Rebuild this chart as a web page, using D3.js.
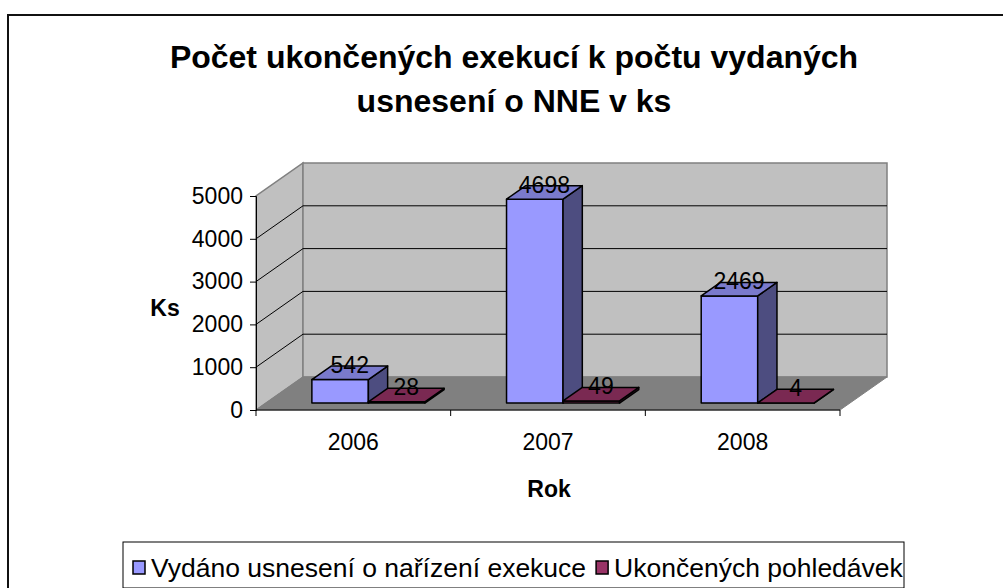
<!DOCTYPE html>
<html>
<head>
<meta charset="utf-8">
<script src="https://cdn.jsdelivr.net/npm/d3@7"></script>
<style>
  body { margin: 0; background: #fff; }
  text { font-family: "Liberation Sans", Arial, sans-serif; }
</style>
</head>
<body>
<svg></svg>
<script>
//Chart data.
var years = ["2006", "2007", "2008"];
var issued = [542, 4698, 2469];
var finished = [28, 49, 4];
var seriesNames = ["Vydáno usnesení o nařízení exekuce", "Ukončených pohledávek"];
var yTicks = [0, 1000, 2000, 3000, 4000, 5000];

var w = 1003, h = 588;
var svg = d3.select("svg").attr("width", w).attr("height", h);

//Depth of the 3D box (floor goes back this many px right and up).
var DX = 47, DY = 33;
//Bars sit between these depth fractions.
var f0 = 0.21, f1 = 0.62;

var x0 = d3.scaleBand().domain(years).range([256, 840]);
var x1 = d3.scaleBand().domain([0, 1]).range([0, 113]);
var y = d3.scaleLinear().domain([0, 5000]).range([410, 196]);
//Bars are drawn a touch taller than the axis scale, as in the picture.
var yBar = d3.scaleLinear().domain([0, 5000]).range([410, 193]);

//Project a front-plane point back to depth f.
function proj(x, yy, f) {
  return [x + f * DX, yy - f * DY];
}
function poly(pts) {
  return "M" + pts.map(p => p.join(",")).join("L") + "Z";
}

//Outer chart frame (runs off the right and bottom edges).
svg.append("rect")
  .attr("x", 8).attr("y", 15)
  .attr("width", 1200).attr("height", 800)
  .attr("fill", "none").attr("stroke", "#111").attr("stroke-width", 2);

//Title.
var title = svg.append("text")
  .attr("text-anchor", "middle")
  .attr("font-weight", "bold")
  .attr("font-size", 32);
title.append("tspan").attr("x", 514).attr("y", 68).text("Počet ukončených exekucí k počtu vydaných");
title.append("tspan").attr("x", 514).attr("y", 112).text("usnesení o NNE v ks");

var y0 = y(0), yMax = y(5000);
var xl = x0.range()[0], xr = x0.range()[1];

//Walls and floor.
var walls = svg.append("g");
walls.append("path")
  .attr("d", poly([proj(xl, y0, 0), proj(xl, yMax, 0), proj(xl, yMax, 1), proj(xl, y0, 1)]))
  .attr("fill", "#c0c0c0").attr("stroke", "#808080").attr("stroke-width", 1.5);
walls.append("path")
  .attr("d", poly([proj(xl, y0, 1), proj(xl, yMax, 1), proj(xr, yMax, 1), proj(xr, y0, 1)]))
  .attr("fill", "#c0c0c0").attr("stroke", "#808080").attr("stroke-width", 1.5);
walls.append("path")
  .attr("d", poly([proj(xl, y0, 0), proj(xr, y0, 0), proj(xr, y0, 1), proj(xl, y0, 1)]))
  .attr("fill", "#808080").attr("stroke", "#808080");

//Gridlines on the side wall and back wall.
var gridTicks = yTicks.filter(t => t > 0 && t < 5000);
walls.selectAll("path.grid")
  .data(gridTicks)
  .enter().append("path")
    .attr("class", "grid")
    .attr("d", t => "M" + proj(xl, y(t), 0).join(",") + "L" + proj(xl, y(t), 1).join(",") +
      "L" + proj(xr, y(t), 1).join(","))
    .attr("fill", "none").attr("stroke", "#000").attr("stroke-width", 1);

//Y axis.
var yAxis = svg.append("g")
  .attr("transform", "translate(" + xl + ",0)")
  .call(d3.axisLeft(y).tickValues(yTicks).tickSize(6).tickPadding(7).tickFormat(d3.format("d")));
yAxis.select(".domain").attr("stroke", "#000");
yAxis.selectAll("text")
  .attr("font-size", 23).attr("fill", "#000")
  .style("font-family", "Liberation Sans, Arial, sans-serif");

//X axis line with ticks at band edges.
var xAxis = svg.append("g")
  .attr("transform", "translate(0," + y0 + ")");
xAxis.append("line")
  .attr("x1", xl).attr("x2", xr).attr("y1", 0).attr("y2", 0)
  .attr("stroke", "#000");
xAxis.selectAll("line.tick")
  .data(years.map(d => x0(d)).concat([xr]))
  .enter().append("line")
    .attr("class", "tick")
    .attr("x1", d => d).attr("x2", d => d)
    .attr("y1", 0).attr("y2", 6)
    .attr("stroke", "#000");
xAxis.selectAll("text")
  .data(years)
  .enter().append("text")
    .attr("x", d => x0(d) + x0.bandwidth() / 2)
    .attr("y", 40)
    .attr("text-anchor", "middle")
    .attr("font-size", 23)
    .text(d => d);

//Axis titles.
svg.append("text")
  .attr("x", 165).attr("y", 316)
  .attr("text-anchor", "middle")
  .attr("font-weight", "bold").attr("font-size", 23)
  .text("Ks");
svg.append("text")
  .attr("x", 549).attr("y", 497)
  .attr("text-anchor", "middle")
  .attr("font-weight", "bold").attr("font-size", 23)
  .text("Rok");

//Series colours: front, top, side.
var colors = [
  { front: "#9999ff", top: "#7a7acc", side: "#4d4d80" },
  { front: "#993366", top: "#7a2952", side: "#4d1a33" }
];

//Build bar records from the series arrays.
var bars = [];
years.forEach((yr, i) => {
  [issued[i], finished[i]].forEach((v, s) => {
    var xa = x0(yr) + 46 + x1(s);
    bars.push({ year: yr, series: s, value: v, xa: xa, xb: xa + x1.bandwidth() });
  });
});

var barGroups = svg.append("g")
  .selectAll("g")
  .data(bars)
  .enter().append("g");

barGroups.append("path")
  .attr("d", b => poly([proj(b.xa, yBar(b.value), f0), proj(b.xb, yBar(b.value), f0),
    proj(b.xb, y0, f0), proj(b.xa, y0, f0)]))
  .attr("fill", b => colors[b.series].front);
barGroups.append("path")
  .attr("d", b => poly([proj(b.xb, yBar(b.value), f0), proj(b.xb, yBar(b.value), f1),
    proj(b.xb, y0, f1), proj(b.xb, y0, f0)]))
  .attr("fill", b => colors[b.series].side);
barGroups.append("path")
  .attr("d", b => poly([proj(b.xa, yBar(b.value), f0), proj(b.xb, yBar(b.value), f0),
    proj(b.xb, yBar(b.value), f1), proj(b.xa, yBar(b.value), f1)]))
  .attr("fill", b => colors[b.series].top);
barGroups.selectAll("path")
  .attr("stroke", "#000").attr("stroke-width", 1.5).attr("stroke-linejoin", "round");

//Value labels above each bar.
svg.append("g")
  .selectAll("text")
  .data(bars)
  .enter().append("text")
    .attr("x", b => (b.xa + b.xb) / 2 + (f0 + f1) / 2 * DX)
    .attr("y", b => yBar(b.value) - f1 * DY + 7)
    .attr("text-anchor", "middle")
    .attr("font-size", 23)
    .text(b => b.value);

//Legend box.
var legend = svg.append("g");
legend.append("rect")
  .attr("x", 123).attr("y", 542)
  .attr("width", 781).attr("height", 46)
  .attr("fill", "#fff").attr("stroke", "#000").attr("stroke-width", 1);

var lx = 133;
seriesNames.forEach((name, s) => {
  legend.append("rect")
    .attr("x", lx).attr("y", 561)
    .attr("width", 12).attr("height", 13)
    .attr("fill", colors[s].front).attr("stroke", "#000").attr("stroke-width", 1.5);
  var t = legend.append("text")
    .attr("x", lx + 18).attr("y", 577)
    .attr("font-size", 26.5)
    .text(name);
  lx = lx + 18 + t.node().getComputedTextLength() + 10;
});
</script>
</body>
</html>
